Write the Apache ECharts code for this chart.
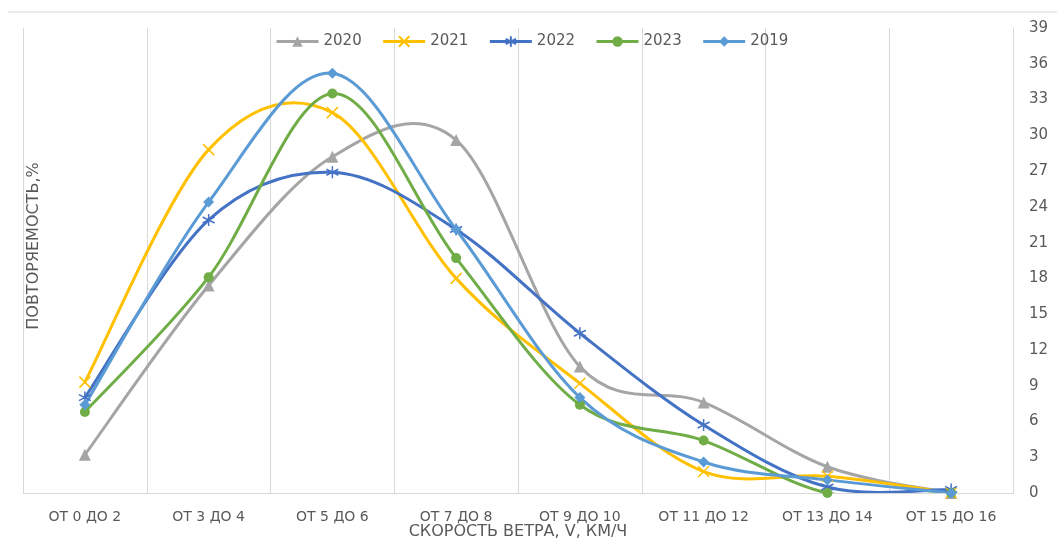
<!DOCTYPE html>
<html>
<head>
<meta charset="utf-8">
<script src="https://cdn.jsdelivr.net/npm/echarts@6/dist/echarts.min.js"></script>
<style>html,body{margin:0;padding:0;background:#fff;}#chart{width:1057px;height:542px;}</style>
</head>
<body>
<div id="chart"></div>
<script>
const categories = ['ОТ 0 ДО 2','ОТ 3 ДО 4','ОТ 5 ДО 6','ОТ 7 ДО 8','ОТ 9 ДО 10','ОТ 11 ДО 12','ОТ 13 ДО 14','ОТ 15 ДО 16'];
const seriesNames = ['2020','2021','2022','2023','2019'];
const v2020 = [3.2, 17.4, 28.2, 29.6, 10.6, 7.6, 2.2, 0];
const v2021 = [9.3, 28.8, 31.9, 18.0, 9.2, 1.8, 1.4, 0];
const v2022 = [8.0, 22.9, 26.9, 22.1, 13.4, 5.7, 0.5, 0.3];
const v2023 = [6.8, 18.1, 33.5, 19.7, 7.4, 4.4, 0, 0];
const v2019 = [7.4, 24.4, 35.2, 22.1, 8.0, 2.6, 1.1, 0];
const yTicks = {min: 0, max: 39, interval: 3};
const xTitle = 'СКОРОСТЬ ВЕТРА, V, КМ/Ч';
const yTitle = 'ПОВТОРЯЕМОСТЬ,%';

const FONT = "'DejaVu Sans', sans-serif";
const GRAY_TXT = '#595959';
const AXIS_LINE = '#d9d9d9';

const styles = {
  '2020': {color: '#A5A5A5', symbol: 'triangle', size: 12},
  '2021': {color: '#FFC000', symbol: 'path://M0,0L10,10M10,0L0,10', size: 11, stroke: true},
  '2022': {color: '#4472C4', symbol: 'path://M5,0L5,10M0.7,2.5L9.3,7.5M9.3,2.5L0.7,7.5', size: 12, stroke: true},
  '2023': {color: '#70AD47', symbol: 'circle', size: 10},
  '2019': {color: '#5B9BD5', symbol: 'diamond', size: 11}
};
const dataMap = {'2020': v2020, '2021': v2021, '2022': v2022, '2023': v2023, '2019': v2019};

// Smoothed curve (Catmull-Rom style, as in spreadsheet "smoothed line"), one segment per data item
function curveRenderer(arr, color) {
  return function (params, api) {
    const n = arr.length;
    const i = params.dataIndex;
    if (i >= n - 1) return null;
    const P = function (k) {
      const kk = Math.max(0, Math.min(n - 1, k));
      return api.coord([kk, arr[kk]]);
    };
    const p0 = P(i - 1), p1 = P(i), p2 = P(i + 1), p3 = P(i + 2);
    return {
      type: 'bezierCurve',
      shape: {
        x1: p1[0], y1: p1[1], x2: p2[0], y2: p2[1],
        cpx1: p1[0] + (p2[0] - p0[0]) / 6, cpy1: p1[1] + (p2[1] - p0[1]) / 6,
        cpx2: p2[0] - (p3[0] - p1[0]) / 6, cpy2: p2[1] - (p3[1] - p1[1]) / 6
      },
      style: {stroke: color, lineWidth: 3, fill: 'none', lineCap: 'round'},
      silent: true
    };
  };
}

const series = [];
seriesNames.forEach(function (n) {
  const s = styles[n];
  const arr = dataMap[n];
  series.push({
    name: n + ' curve',
    type: 'custom',
    coordinateSystem: 'cartesian2d',
    data: arr.map(function (v, i) { return [i, v]; }),
    renderItem: curveRenderer(arr, s.color),
    clip: true,
    silent: true,
    z: 2
  });
  series.push({
    name: n,
    type: 'line',
    data: arr,
    smooth: false,
    symbol: s.symbol,
    symbolSize: s.size,
    showAllSymbol: true,
    lineStyle: {color: s.color, width: 3, opacity: 0},
    itemStyle: s.stroke ? {color: s.color, borderColor: s.color, borderWidth: 1.5} : {color: s.color, borderWidth: 0},
    emphasis: {disabled: true},
    z: 3
  });
});

const chart = echarts.init(document.getElementById('chart'), null, {renderer: 'canvas'});
chart.setOption({
  animation: false,
  backgroundColor: '#ffffff',
  textStyle: {fontFamily: FONT},
  graphic: [{
    type: 'line',
    shape: {x1: 8, y1: 12, x2: 1057, y2: 12},
    style: {stroke: '#d9d9d9', lineWidth: 1},
    silent: true
  }, {
    type: 'text',
    x: 34, y: 246,
    rotation: Math.PI / 2,
    style: {text: yTitle, fill: GRAY_TXT, font: "16px 'DejaVu Sans', sans-serif", align: 'center', verticalAlign: 'middle'},
    silent: true
  }],
  legend: {
    data: seriesNames.map(function (n) {
      return {name: n, lineStyle: {opacity: 1, width: 3, color: styles[n].color}};
    }),
    left: 275,
    top: 34,
    padding: 0,
    itemWidth: 42,
    itemHeight: 13,
    itemGap: 20,
    textStyle: {color: GRAY_TXT, fontSize: 15, fontFamily: FONT}
  },
  grid: {left: 23, right: 44, top: 28, bottom: 49, containLabel: false, outerBoundsMode: 'none'},
  xAxis: {
    type: 'category',
    data: categories,
    boundaryGap: true,
    name: xTitle,
    nameLocation: 'middle',
    nameGap: 31,
    nameMoveOverlap: false,
    nameTextStyle: {color: GRAY_TXT, fontSize: 16, fontFamily: FONT},
    axisLine: {show: true, lineStyle: {color: AXIS_LINE, width: 1}},
    axisTick: {show: false},
    axisLabel: {interval: 0, color: GRAY_TXT, fontSize: 14, margin: 17, fontFamily: FONT},
    splitLine: {show: true, interval: 0, lineStyle: {color: AXIS_LINE, width: 1}}
  },
  yAxis: {
    type: 'value',
    position: 'right',
    min: yTicks.min, max: yTicks.max, interval: yTicks.interval,
    axisLine: {show: true, lineStyle: {color: AXIS_LINE, width: 1}},
    axisTick: {show: false},
    axisLabel: {color: GRAY_TXT, fontSize: 15, margin: 16, fontFamily: FONT},
    splitLine: {show: false}
  },
  series: series
});
</script>
</body>
</html>
